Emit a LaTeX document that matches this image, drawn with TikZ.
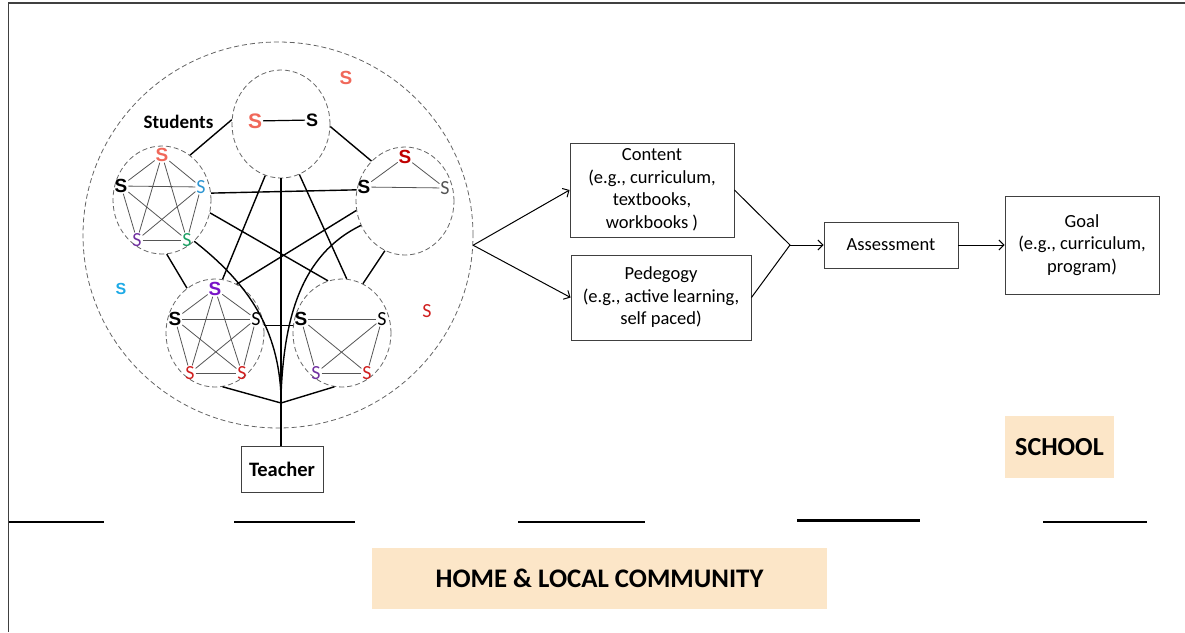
\documentclass[tikz,border=0pt]{standalone}
\usepackage{fontspec}
\setmainfont{Carlito}
\newfontfamily\arialf{Liberation Sans}
\usetikzlibrary{shapes.geometric,arrows.meta}
\definecolor{salmon}{RGB}{240,104,90}
\definecolor{dkred}{RGB}{192,0,0}
\definecolor{thinred}{RGB}{208,32,32}
\definecolor{sblue}{RGB}{46,150,210}
\definecolor{lblue}{RGB}{30,170,230}
\definecolor{sgreen}{RGB}{30,160,100}
\definecolor{spurple}{RGB}{112,48,160}
\definecolor{bpurple}{RGB}{120,20,200}
\definecolor{peach}{RGB}{252,230,200}
\definecolor{boxgray}{RGB}{64,64,64}
\definecolor{dashgray}{RGB}{100,100,100}
\definecolor{webgray}{RGB}{85,85,85}
\begin{document}
\begin{tikzpicture}[x=1pt,y=-1pt,
  box/.style={draw=boxgray, line width=0.9pt, align=center, inner sep=0pt,
    font=\fontsize{18.5}{22.5}\selectfont},
  grp/.style={ellipse, draw=dashgray, line width=0.8pt, dash pattern=on 5pt off 3pt,
    minimum width=98pt, minimum height=108pt, inner sep=0pt},
  link/.style={line width=1.4pt, black},
  web/.style={line width=0.8pt, draw=webgray},
  arr/.style={line width=1pt, -{Straight Barb[length=5pt,width=10pt]}},
  sb/.style={font=\arialf\bfseries\fontsize{19}{19}\selectfont, inner sep=0.8pt},
  sl/.style={font=\fontsize{20}{20}\selectfont, inner sep=0.8pt},
  band/.style={fill=peach, inner sep=0pt, font=\bfseries\fontsize{26}{26}\selectfont},
  seg/.style={line width=2.5pt, black}]
\useasboundingbox (0,0) rectangle (1185,632);
\draw[line width=1.6pt, boxgray] (1185,3) -- (8.5,3) -- (8.5,632);

% classroom circle
\node[ellipse, draw=dashgray, line width=0.8pt, dash pattern=on 5pt off 3pt,
  minimum width=390pt, minimum height=386pt, inner sep=0pt] (cls) at (278,235) {};

% groups
\node[grp] (T)  at (281,124) {};
\node[grp] (TL) at (162,200) {};
\node[grp] (R)  at (405,201) {};
\node[grp] (BL) at (215,333) {};
\node[grp] (BR) at (342,333) {};

% students in T
\node[sb, text=salmon, font=\arialf\bfseries\fontsize{21}{21}\selectfont] (t1) at (255,121) {S};
\node[sb, font=\arialf\bfseries\fontsize{18}{18}\selectfont] (t2) at (312,120) {S};
\draw[link, line width=1.2pt] (t1) -- (t2);

% TL pentagon
\node[sb, text=salmon] (a1) at (162,155) {S};
\node[sb] (a2) at (121,186) {S};
\node[sl, text=sblue] (a3) at (201,187) {S};
\node[sl, text=spurple] (a4) at (137,240) {S};
\node[sl, text=sgreen] (a5) at (187,240) {S};
\foreach \u/\v in {a1/a2,a1/a3,a1/a4,a1/a5,a2/a3,a2/a4,a2/a5,a3/a4,a3/a5,a4/a5}
  \draw[web] (\u) -- (\v);

% R triangle
\node[sb] (r1) at (364,187) {S};
\node[sb, text=dkred] (r2) at (405,157) {S};
\node[sl, text=webgray] (r3) at (445,188) {S};
\foreach \u/\v in {r1/r2,r2/r3,r1/r3}
  \draw[web] (\u) -- (\v);

% BL pentagon
\node[sb, text=bpurple] (b1) at (215,289) {S};
\node[sb] (b2) at (175,319) {S};
\node[sl] (b3) at (256,319) {S};
\node[sl, text=thinred] (b4) at (190,373) {S};
\node[sl, text=thinred] (b5) at (242,373) {S};
\foreach \u/\v in {b1/b2,b1/b3,b1/b4,b1/b5,b2/b3,b2/b4,b2/b5,b3/b4,b3/b5,b4/b5}
  \draw[web] (\u) -- (\v);

% BR group
\node[sb] (c1) at (301,319) {S};
\node[sl] (c2) at (382,319) {S};
\node[sl, text=spurple] (c3) at (316,373) {S};
\node[sl, text=thinred] (c4) at (367,373) {S};
\foreach \u/\v in {c1/c2,c1/c3,c1/c4,c2/c3,c2/c4,c3/c4}
  \draw[web] (\u) -- (\v);

% free students
\node[sb, text=salmon] (f1) at (346,78) {S};
\node[sb, text=lblue, font=\arialf\bfseries\fontsize{16}{16}\selectfont] (f2) at (121,289) {S};
\node[sl, text=thinred] (f3) at (427,311) {S};

\node[font=\bfseries\fontsize{19}{19}\selectfont] (stu) at (178.5,122) {Students};

% teacher
\node[box, font=\bfseries\fontsize{20.5}{20.5}\selectfont, minimum width=82pt, minimum height=46pt]
  (teacher) at (282,469) {Teacher};

% links between groups
\draw[link] (TL.58) -- (T.175);
\draw[link] (TL.8) -- (R.167);
\draw[link] (TL.-15) -- (BR.105);
\draw[link] (TL.-85) -- (BL.122);
\draw[link] (T.-107) -- (BL.82);
\draw[link] (T.-70) -- (BR.85);
\draw[link] (T.-3) -- (R.130);
\draw[link] (R.-169) -- (BL.66);
\draw[link] (R.-112) -- (BR.67);
\draw[link] (BL.9) -- (BR.171);
\coordinate (J) at (281,403);
\coordinate (M) at (281,395);
\draw[link] (BL.-82) -- (J) -- (BR.-98);
\draw[link] (T.south) -- (T.south |- teacher.north);
\draw[link] (TL.-52) .. controls (250,285) and (278,330) .. (M);
\draw[link] (R.209) .. controls (300,255) and (284,320) .. (M);

% right-hand flow
\node[box, minimum width=164pt, minimum height=94pt] (content) at (652,190)
  {Content\\(e.g., curriculum,\\textbooks,\\workbooks )};
\node[box, minimum width=180pt, minimum height=85pt] (ped) at (661,297.5)
  {Pedegogy\\(e.g., active learning,\\self paced)};
\node[box, minimum width=134pt, minimum height=46pt] (assess) at (891,245) {Assessment};
\node[box, minimum width=154pt, minimum height=98pt] (goal) at (1082,245)
  {Goal\\(e.g., curriculum,\\program)};
\coordinate (K) at (790,245);

\draw[arr] (cls.-3) -- (content.west);
\draw[arr] (cls.-3) -- (ped.west);
\draw[line width=1pt] (content.east) -- (K) -- (ped.east);
\draw[arr] (K) -- (assess.west);
\draw[arr] (assess.east) -- (goal.west);

% labels
\node[band, minimum width=109pt, minimum height=62pt] (school) at (1059.5,447) {SCHOOL};
\node[band, font=\bfseries\fontsize{26.8}{26.8}\selectfont, minimum width=455pt, minimum height=61pt] (home) at (599.5,578.5) {HOME \& LOCAL COMMUNITY};

% boundary dashes
\draw[seg] (9,522) -- (103.5,522);
\draw[seg] (234,522) -- (355,522);
\draw[seg] (518,522) -- (645,522);
\draw[seg] (797,520.7) -- (920,520.7);
\draw[seg] (1043,522) -- (1147,522);
\end{tikzpicture}
\end{document}
